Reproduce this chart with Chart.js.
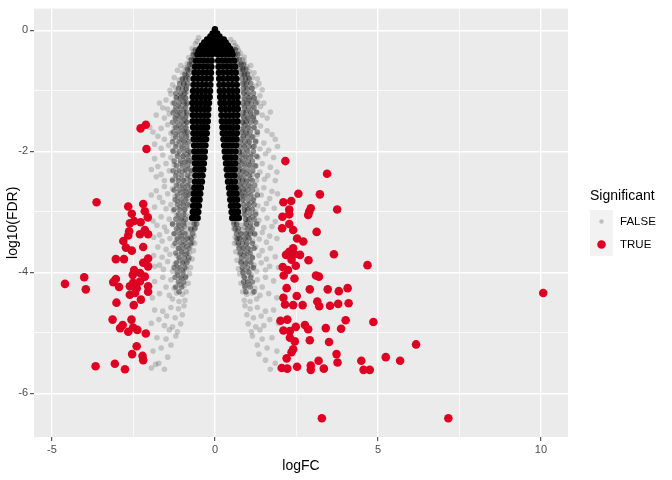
<!DOCTYPE html>
<html>
<head>
<meta charset="utf-8">
<script src="https://cdn.jsdelivr.net/npm/chart.js@4.4.0/dist/chart.umd.min.js"></script>
<style>
html, body { margin: 0; padding: 0; background: #fff; }
</style>
</head>
<body>
<canvas id="volcano" width="672" height="480"></canvas>
<script>
// tick values
var xTicks = [-5, -2.5, 0, 2.5, 5, 7.5, 10];
var yTicks = [-6, -5, -4, -3, -2, -1, 0];
var sigLabels = ['FALSE', 'TRUE'];

// significant genes (logFC, log10 FDR)
var sigX = [-2.12,-2.28,-2.10,-3.63,-2.66,-2.20,-2.55,-2.15,-2.06,-2.61,-2.48,-2.28,-2.63,-2.66,-2.30,-2.15,-2.05,-2.81,-2.73,-2.55,
  -2.20,-3.04,-2.79,-2.05,-2.20,-2.05,-2.48,-4.01,-4.60,-3.96,-3.04,-3.12,-2.94,-2.52,-2.30,-2.15,-2.51,-2.30,-2.61,-2.40,
  -2.05,-2.61,-2.45,-2.05,-2.27,-3.02,-2.49,-3.14,-2.56,-2.83,-2.91,-2.51,-2.38,-2.66,-2.12,-2.40,-2.54,-2.22,-2.20,-3.66,-3.07,-2.76,
  2.16,3.44,2.56,3.22,2.10,2.34,2.28,2.94,2.89,2.86,3.75,2.07,2.28,2.28,2.06,2.40,3.12,2.52,2.71,2.40,
  2.28,2.18,2.44,2.61,2.35,2.48,2.87,3.65,2.08,2.24,2.11,2.44,3.10,3.19,4.68,2.20,2.91,3.46,3.80,4.07,
  2.10,2.51,2.15,2.40,2.69,3.14,3.20,3.53,3.78,4.10,2.01,2.22,2.48,2.10,2.30,2.76,2.86,3.40,3.87,4.01,
  4.86,2.30,2.45,2.91,3.50,6.17,2.40,2.35,3.73,2.20,3.18,3.76,4.49,5.24,5.68,2.05,2.22,2.52,2.94,2.94,
  3.34,4.56,4.75,3.28,10.07,7.16];
var sigY = [-1.56,-1.62,-1.96,-2.84,-2.91,-2.87,-3.03,-2.99,-3.09,-3.19,-3.15,-3.17,-3.32,-3.39,-3.37,-3.30,-3.37,-3.48,-3.59,-3.64,
  -3.58,-3.78,-3.78,-3.77,-3.84,-3.90,-3.96,-4.08,-4.19,-4.28,-4.11,-4.16,-4.24,-4.04,-4.01,-4.07,-4.17,-4.15,-4.23,-4.26,
  -4.23,-4.37,-4.34,-4.32,-4.45,-4.50,-4.54,-4.78,-4.78,-4.87,-4.92,-4.91,-4.95,-4.98,-5.01,-5.22,-5.35,-5.38,-5.45,-5.55,-5.51,-5.60,
  -2.16,-2.37,-2.70,-2.71,-2.84,-2.82,-2.96,-2.94,-3.00,-3.05,-2.96,-3.08,-3.04,-3.20,-3.27,-3.30,-3.33,-3.44,-3.49,-3.60,
  -3.66,-3.71,-3.70,-3.71,-3.79,-3.89,-3.80,-3.70,-3.91,-3.96,-4.05,-4.10,-4.05,-4.07,-3.88,-4.26,-4.28,-4.28,-4.31,-4.26,
  -4.42,-4.39,-4.53,-4.54,-4.54,-4.48,-4.56,-4.55,-4.52,-4.51,-4.80,-4.78,-4.90,-4.96,-4.97,-4.87,-4.94,-4.92,-4.93,-4.79,
  -4.82,-5.08,-5.14,-5.12,-5.15,-5.19,-5.27,-5.32,-5.35,-5.42,-5.46,-5.49,-5.46,-5.40,-5.46,-5.58,-5.59,-5.56,-5.54,-5.61,
  -5.59,-5.61,-5.61,-6.41,-4.34,-6.41];

// densest non-significant genes: each row is [log10 FDR, logFC, logFC, ...]
var coreRows = [
  [0.02, 0],
  [-0.05, -0.07, 0.07],
  [-0.1, -0.14, 0, 0.14],
  [-0.15, -0.24, -0.1, 0.04, 0.18, 0.27],
  [-0.2, -0.33, -0.2, -0.07, 0.07, 0.2, 0.33],
  [-0.25, -0.4, -0.27, -0.14, 0, 0.14, 0.27, 0.4],
  [-0.3, -0.45, -0.32, -0.19, -0.06, 0.07, 0.2, 0.33, 0.46],
  [-0.35, -0.5, -0.37, -0.24, -0.11, 0.02, 0.15, 0.28, 0.41, 0.51],
  [-0.4, -0.53, -0.42, -0.31, -0.2, -0.09, 0.09, 0.2, 0.31, 0.42, 0.54],
  [-0.5, -0.58, -0.46, -0.34, -0.22, -0.1, 0.1, 0.22, 0.34, 0.46, 0.59],
  [-0.6, -0.61, -0.49, -0.36, -0.23, -0.11, 0.11, 0.24, 0.37, 0.5, 0.62],
  [-0.7, -0.63, -0.51, -0.38, -0.25, -0.12, 0.12, 0.25, 0.39, 0.52, 0.64],
  [-0.8, -0.65, -0.52, -0.39, -0.26, -0.13, 0.13, 0.26, 0.4, 0.53, 0.66],
  [-0.9, -0.66, -0.53, -0.4, -0.27, -0.14, 0.14, 0.27, 0.41, 0.54, 0.67],
  [-1.0, -0.67, -0.54, -0.41, -0.28, -0.15, 0.15, 0.28, 0.42, 0.55, 0.68],
  [-1.1, -0.68, -0.55, -0.42, -0.29, -0.16, 0.16, 0.29, 0.43, 0.56, 0.69],
  [-1.2, -0.69, -0.56, -0.43, -0.3, -0.18, 0.17, 0.3, 0.44, 0.57, 0.7],
  [-1.3, -0.69, -0.56, -0.44, -0.32, -0.2, 0.19, 0.32, 0.45, 0.58, 0.7],
  [-1.4, -0.68, -0.56, -0.44, -0.32, -0.21, 0.2, 0.33, 0.45, 0.57, 0.69],
  [-1.5, -0.68, -0.56, -0.44, -0.33, -0.22, 0.21, 0.33, 0.45, 0.57, 0.69],
  [-1.6, -0.67, -0.55, -0.44, -0.34, -0.24, 0.23, 0.34, 0.45, 0.56, 0.68],
  [-1.7, -0.66, -0.55, -0.45, -0.35, -0.25, 0.24, 0.35, 0.46, 0.56, 0.67],
  [-1.8, -0.65, -0.55, -0.45, -0.36, -0.27, 0.26, 0.36, 0.46, 0.56, 0.66],
  [-1.9, -0.64, -0.54, -0.45, -0.37, -0.29, 0.28, 0.37, 0.46, 0.55, 0.65],
  [-2.0, -0.63, -0.52, -0.41, -0.31, 0.3, 0.4, 0.51, 0.63],
  [-2.1, -0.62, -0.52, -0.42, -0.32, 0.32, 0.41, 0.51, 0.62],
  [-2.2, -0.61, -0.52, -0.43, -0.34, 0.34, 0.43, 0.52, 0.62],
  [-2.3, -0.6, -0.51, -0.43, -0.36, 0.36, 0.44, 0.53, 0.61],
  [-2.4, -0.6, -0.49, -0.38, 0.38, 0.49, 0.6],
  [-2.5, -0.61, -0.5, -0.4, 0.4, 0.5, 0.61],
  [-2.6, -0.63, -0.53, -0.43, 0.43, 0.53, 0.63],
  [-2.7, -0.65, -0.55, -0.45, 0.45, 0.55, 0.66],
  [-2.8, -0.66, -0.56, -0.47, 0.47, 0.57, 0.68],
  [-2.9, -0.67, -0.57, -0.49, 0.49, 0.59, 0.7],
  [-3.0, -0.68, -0.59, -0.51, 0.51, 0.61, 0.71],
  [-3.1, -0.7, -0.61, -0.53, 0.53, 0.63, 0.73]
];

// overlapping non-significant genes next to the core: [log10 FDR, logFC, ...]
var midRows = [
  [-0.32, -0.6, -0.52, 0.55, 0.63],
  [-0.4, -0.66, -0.58, 0.62, 0.7],
  [-0.48, -0.72, -0.64, 0.66, 0.75],
  [-0.56, -0.78, -0.7, 0.72, 0.8, 0.88],
  [-0.64, -0.85, -0.76, 0.78, 0.86, 0.95],
  [-0.72, -0.92, -0.82, 0.82, 0.9, 1.0],
  [-0.8, -1.0, -0.9, -0.8, 0.84, 0.94, 1.05],
  [-0.88, -1.08, -0.96, -0.84, 0.85, 0.96, 1.1],
  [-0.96, -1.12, -1.0, -0.88, 0.87, 0.99, 1.14],
  [-1.04, -1.2, -1.05, -0.92, 0.88, 1.02, 1.18],
  [-1.12, -1.18, -1.06, -0.9, 0.9, 1.05, 1.2],
  [-1.2, -1.25, -1.1, -0.95, -0.85, 0.86, 0.98, 1.12, 1.26],
  [-1.28, -1.2, -1.05, -0.9, 0.9, 1.04, 1.2],
  [-1.36, -1.28, -1.12, -0.96, -0.86, 0.86, 0.95, 1.1, 1.28],
  [-1.44, -1.22, -1.06, -0.9, 0.88, 1.02, 1.18],
  [-1.52, -1.3, -1.15, -1.0, -0.86, 0.85, 0.96, 1.1, 1.25],
  [-1.6, -1.2, -1.05, -0.9, 0.88, 1.02, 1.2],
  [-1.68, -1.28, -1.12, -0.96, -0.84, 0.82, 0.95, 1.08, 1.3],
  [-1.76, -1.2, -1.02, -0.88, 0.86, 1.0, 1.16],
  [-1.84, -1.3, -1.1, -0.95, -0.8, 0.78, 0.92, 1.06, 1.25],
  [-1.92, -1.2, -1.02, -0.86, 0.76, 0.9, 1.05, 1.2],
  [-2.0, -1.28, -1.1, -0.94, -0.78, 0.74, 0.85, 1.0, 1.18],
  [-2.08, -1.15, -0.98, -0.82, 0.78, 0.94, 1.1, 1.28],
  [-2.16, -1.25, -1.06, -0.9, -0.75, 0.73, 0.86, 1.02, 1.15],
  [-2.24, -1.18, -1.0, -0.84, 0.76, 0.92, 1.08, 1.25],
  [-2.32, -1.28, -1.1, -0.92, -0.74, 0.72, 0.85, 1.0, 1.16],
  [-2.4, -1.2, -1.02, -0.84, 0.76, 0.9, 1.06, 1.3],
  [-2.48, -1.3, -1.12, -0.95, -0.76, 0.72, 0.84, 0.98, 1.14],
  [-2.56, -1.18, -1.0, -0.84, 0.76, 0.9, 1.05, 1.22],
  [-2.64, -1.25, -1.08, -0.92, -0.76, 0.74, 0.86, 1.0, 1.15],
  [-2.72, -1.15, -0.98, -0.82, 0.8, 0.94, 1.1, 1.3],
  [-2.8, -1.22, -1.05, -0.9, 0.86, 1.02, 1.18],
  [-2.88, -1.15, -0.98, -0.84, 0.88, 1.04, 1.2],
  [-2.96, -1.25, -1.08, -0.92, 0.9, 1.0, 1.15],
  [-3.04, -1.12, -0.96, 0.92, 1.08, 1.25],
  [-3.12, -1.2, -1.05, -0.9, 0.94, 1.05, 1.2],
  [-3.2, -1.3, -1.12, -0.96, -0.64, -0.56, 0.58, 0.66, 0.96, 1.1, 1.28],
  [-3.28, -1.18, -1.02, -0.74, -0.62, 0.62, 0.72, 1.0, 1.15],
  [-3.36, -1.25, -1.08, -0.92, -0.68, 0.66, 0.8, 0.95, 1.08, 1.22],
  [-3.44, -1.15, -1.0, -0.84, -0.72, 0.68, 0.76, 0.92, 1.05],
  [-3.52, -1.22, -1.05, -0.9, -0.74, 0.72, 0.84, 0.98, 1.15],
  [-3.6, -1.12, -0.96, -0.8, 0.74, 0.88, 1.02, 1.2],
  [-3.68, -1.2, -1.02, -0.86, 0.78, 0.92, 1.08],
  [-3.76, -1.1, -0.94, -0.8, 0.82, 0.98, 1.15],
  [-3.84, -1.18, -1.0, -0.86, 0.8, 0.94, 1.1],
  [-3.92, -1.25, -1.08, -0.92, 0.84, 1.0, 1.18],
  [-4.0, -1.15, -0.98, 0.86, 1.04],
  [-4.08, -1.22, -1.05, -0.9, 0.9, 1.1],
  [-4.16, -1.12, -0.96, 0.88, 1.0, 1.15],
  [-4.24, -1.2, -1.02, 0.92, 1.08],
  [-4.32, -1.1, 0.95, 1.2]
];

// scattered non-significant genes [logFC, log10 FDR]
var haloPts = [
  [-0.5,-0.12],[0.48,-0.15],[-0.6,-0.22],[0.62,-0.25],[-0.7,-0.3],[0.72,-0.33],[-0.68,-0.4],[0.78,-0.38],[-0.8,-0.45],[0.85,-0.48],
  [-0.75,-0.5],[0.9,-0.44],[-0.55,-0.18],[0.58,-0.2],[-0.65,-0.35],[0.68,-0.28],
  [-0.85,-0.55],[-0.92,-0.62],[-1.0,-0.7],[-0.88,-0.75],[-1.1,-0.82],[-0.95,-0.88],[-1.2,-0.95],[-0.9,-0.98],[-1.05,-0.58],[-1.3,-0.9],
  [-0.82,-0.66],[-1.15,-0.66],[-0.98,-0.8],[-1.25,-0.78],[-0.86,-0.92],[-1.38,-0.99],
  [0.9,-0.52],[0.98,-0.6],[1.05,-0.68],[0.92,-0.72],[1.15,-0.78],[1.0,-0.85],[1.25,-0.92],[0.95,-0.95],[1.1,-0.58],[1.35,-0.88],
  [0.86,-0.64],[1.2,-0.7],[1.02,-0.78],[1.3,-0.8],[0.9,-0.88],[1.45,-0.98],[1.12,-0.96],
  [-0.85,-1.02],[-0.95,-1.05],[-1.05,-1.08],[-0.9,-1.12],[-1.2,-1.1],[-1.35,-1.05],[-1.0,-1.18],[-0.88,-1.22],[-1.12,-1.25],[-1.5,-1.15],
  [-1.7,-1.2],[-1.6,-1.28],[-0.95,-1.3],[-1.25,-1.32],[-1.08,-1.36],[-0.86,-1.4],[-1.4,-1.38],[-1.0,-1.44],[-1.2,-1.46],[-0.92,-1.48],
  [-1.55,-1.45],[-1.8,-1.4],[-1.3,-1.2],[-1.45,-1.3],[-0.98,-1.12],[-1.15,-1.4],
  [0.88,-1.02],[0.98,-1.06],[1.08,-1.1],[0.92,-1.14],[1.22,-1.12],[1.38,-1.08],[1.02,-1.2],[0.9,-1.24],[1.15,-1.28],[1.5,-1.2],
  [1.4,-1.26],[0.98,-1.32],[1.28,-1.34],[1.1,-1.38],[0.88,-1.42],[1.45,-1.4],[1.02,-1.46],[1.2,-1.48],[0.95,-1.5],[1.6,-1.45],
  [1.32,-1.18],[1.05,-1.16],[1.18,-1.42],[1.7,-1.35],
  [-0.85,-1.52],[-0.95,-1.55],[-1.1,-1.58],[-0.88,-1.62],[-1.25,-1.6],[-1.45,-1.56],[-1.65,-1.62],[-1.0,-1.66],[-0.9,-1.7],[-1.15,-1.72],
  [-1.35,-1.7],[-1.9,-1.68],[-0.82,-1.76],[-1.05,-1.8],[-1.28,-1.78],[-1.55,-1.8],[-1.75,-1.75],[-0.92,-1.85],[-1.18,-1.88],[-1.42,-1.9],
  [-1.0,-1.94],[-1.65,-1.95],[-0.85,-1.98],[-1.3,-1.98],[-1.85,-1.88],[-2.0,-1.6],
  [0.82,-1.52],[0.92,-1.56],[1.05,-1.6],[0.85,-1.64],[1.2,-1.62],[1.4,-1.58],[1.6,-1.66],[0.98,-1.7],[0.88,-1.74],[1.12,-1.76],
  [1.3,-1.72],[1.75,-1.72],[0.8,-1.8],[1.02,-1.84],[1.25,-1.82],[1.5,-1.86],[1.85,-1.8],[0.9,-1.9],[1.15,-1.92],[1.38,-1.96],
  [0.98,-1.98],[1.65,-1.98],[1.92,-1.92],
  [-0.75,-2.02],[-0.85,-2.05],[-0.98,-2.08],[-1.15,-2.04],[-1.35,-2.1],[-1.6,-2.06],[-1.85,-2.12],[-0.8,-2.15],[-0.92,-2.18],[-1.05,-2.2],
  [-1.25,-2.22],[-1.5,-2.2],[-1.75,-2.25],[-0.78,-2.28],[-0.88,-2.3],[-1.0,-2.33],[-1.18,-2.35],[-1.4,-2.32],[-1.65,-2.38],[-1.95,-2.3],
  [-0.76,-2.42],[-0.86,-2.45],[-0.98,-2.48],[-1.12,-2.44],[-1.3,-2.46],[-1.55,-2.48],[-1.8,-2.42],[-0.7,-2.2],[-0.72,-2.36],
  [0.75,-2.02],[0.84,-2.06],[0.96,-2.1],[1.12,-2.05],[1.32,-2.1],[1.55,-2.04],[1.8,-2.1],[0.78,-2.16],[0.9,-2.2],[1.04,-2.22],
  [1.22,-2.24],[1.45,-2.2],[1.7,-2.26],[0.76,-2.3],[0.86,-2.33],[0.98,-2.36],[1.15,-2.38],[1.38,-2.34],[1.62,-2.4],[1.9,-2.34],
  [0.74,-2.44],[0.85,-2.46],[0.96,-2.5],[1.1,-2.45],[1.28,-2.48],[1.52,-2.46],[1.85,-2.48],[0.72,-2.24],[0.7,-2.4],
  [-0.5,-2.52],[-0.6,-2.55],[-0.7,-2.58],[-0.82,-2.54],[-0.95,-2.6],[-1.1,-2.56],[-1.3,-2.62],[-1.55,-2.58],[-1.8,-2.65],[-0.55,-2.64],
  [-0.65,-2.68],[-0.78,-2.7],[-0.9,-2.72],[-1.05,-2.68],[-1.22,-2.74],[-1.45,-2.7],[-1.7,-2.76],[-1.95,-2.72],[-0.5,-2.78],[-0.62,-2.8],
  [-0.74,-2.83],[-0.86,-2.78],[-1.0,-2.85],[-1.15,-2.82],[-1.35,-2.88],[-1.6,-2.84],[-0.54,-2.9],[-0.68,-2.94],[-0.8,-2.9],[-0.94,-2.96],
  [-1.08,-2.92],[-1.28,-2.98],[-1.5,-2.95],[-1.85,-2.92],[-0.58,-2.98],[-0.72,-2.6],[-0.88,-2.66],
  [0.48,-2.52],[0.58,-2.56],[0.68,-2.6],[0.8,-2.55],[0.92,-2.62],[1.08,-2.58],[1.28,-2.64],[1.5,-2.6],[1.75,-2.66],[0.52,-2.66],
  [0.62,-2.7],[0.75,-2.72],[0.88,-2.74],[1.02,-2.7],[1.2,-2.76],[1.42,-2.72],[1.68,-2.78],[1.92,-2.7],[0.5,-2.8],[0.6,-2.82],
  [0.72,-2.86],[0.84,-2.8],[0.98,-2.88],[1.12,-2.84],[1.32,-2.9],[1.58,-2.86],[0.55,-2.92],[0.66,-2.96],[0.78,-2.92],[0.92,-2.98],
  [1.05,-2.94],[1.25,-3.0],[1.48,-2.96],[1.82,-2.94],[0.6,-3.0],[0.7,-2.64],[0.85,-2.68],
  [-0.55,-3.02],[-0.66,-3.05],[-0.78,-3.08],[-0.9,-3.04],[-1.02,-3.1],[-1.18,-3.06],[-1.4,-3.12],[-1.65,-3.08],[-1.9,-3.15],[-0.58,-3.14],
  [-0.7,-3.18],[-0.84,-3.2],[-0.96,-3.16],[-1.1,-3.22],[-1.3,-3.2],[-1.55,-3.25],[-1.78,-3.22],[-0.6,-3.26],[-0.72,-3.3],[-0.86,-3.28],
  [-0.98,-3.34],[-1.12,-3.3],[-1.25,-3.36],[-1.48,-3.32],[-1.7,-3.38],[-0.64,-3.4],[-0.76,-3.42],[-0.9,-3.45],[-1.04,-3.4],[-1.18,-3.46],
  [-1.38,-3.44],[-1.62,-3.48],[-1.88,-3.42],[-0.68,-3.5],[-0.82,-3.36],[-0.94,-3.24],
  [0.54,-3.02],[0.64,-3.06],[0.76,-3.1],[0.88,-3.04],[1.0,-3.12],[1.15,-3.08],[1.35,-3.14],[1.6,-3.1],[1.85,-3.16],[0.56,-3.16],
  [0.68,-3.2],[0.8,-3.22],[0.94,-3.18],[1.08,-3.24],[1.28,-3.2],[1.5,-3.26],[1.75,-3.24],[0.58,-3.28],[0.7,-3.32],[0.84,-3.3],
  [0.98,-3.36],[1.1,-3.32],[1.22,-3.38],[1.45,-3.34],[1.68,-3.4],[0.62,-3.42],[0.74,-3.44],[0.88,-3.46],[1.02,-3.42],[1.16,-3.48],
  [1.36,-3.45],[1.58,-3.5],[1.9,-3.44],[0.66,-3.5],[0.8,-3.38],[0.92,-3.26],
  [-0.62,-3.52],[-0.74,-3.55],[-0.86,-3.58],[-0.98,-3.54],[-1.1,-3.6],[-1.28,-3.56],[-1.5,-3.62],[-1.75,-3.58],[-0.66,-3.64],[-0.78,-3.68],
  [-0.9,-3.7],[-1.02,-3.66],[-1.16,-3.72],[-1.38,-3.7],[-1.62,-3.75],[-1.88,-3.72],[-0.7,-3.78],[-0.82,-3.8],[-0.95,-3.84],[-1.08,-3.8],
  [-1.22,-3.86],[-1.45,-3.82],[-1.7,-3.88],[-0.75,-3.92],[-0.88,-3.94],[-1.0,-3.97],[-1.14,-3.92],[-1.3,-3.98],[-1.58,-3.95],[-1.85,-3.9],
  [0.6,-3.52],[0.72,-3.56],[0.84,-3.6],[0.96,-3.54],[1.08,-3.62],[1.25,-3.58],[1.45,-3.64],[1.7,-3.6],[0.64,-3.66],[0.76,-3.7],
  [0.88,-3.72],[1.0,-3.68],[1.14,-3.74],[1.35,-3.72],[1.58,-3.78],[1.85,-3.74],[0.68,-3.8],[0.8,-3.82],[0.93,-3.86],[1.06,-3.82],
  [1.2,-3.88],[1.42,-3.84],[1.68,-3.9],[0.72,-3.94],[0.86,-3.96],[0.98,-3.99],[1.12,-3.94],[1.28,-3.98],[1.55,-3.96],[1.95,-3.92],
  [-0.78,-4.02],[-0.9,-4.06],[-1.02,-4.1],[-1.15,-4.04],[-1.35,-4.12],[-1.6,-4.08],[-1.85,-4.15],[-0.82,-4.18],[-0.95,-4.22],[-1.08,-4.2],
  [-1.25,-4.26],[-1.5,-4.24],[-0.88,-4.32],[-1.0,-4.36],[-1.18,-4.34],[-1.4,-4.38],[-1.7,-4.35],[-0.92,-4.46],[-1.1,-4.48],[-1.3,-4.44],[-1.92,-4.42],
  [0.76,-4.02],[0.88,-4.06],[1.0,-4.1],[1.12,-4.04],[1.3,-4.12],[1.55,-4.08],[1.8,-4.14],[0.8,-4.18],[0.92,-4.22],[1.05,-4.2],
  [1.22,-4.26],[1.45,-4.24],[0.85,-4.32],[0.98,-4.36],[1.15,-4.34],[1.38,-4.38],[1.65,-4.35],[0.9,-4.46],[1.08,-4.48],[1.28,-4.44],[1.9,-4.42],
  [-0.95,-4.55],[-1.12,-4.6],[-1.35,-4.58],[-1.6,-4.64],[-1.85,-4.62],[-1.0,-4.7],[-1.22,-4.75],[-1.48,-4.72],[-1.72,-4.78],[-1.05,-4.85],
  [-1.3,-4.9],[-1.55,-4.88],[-1.95,-4.84],[-1.15,-4.98],[-1.4,-4.95],
  [0.92,-4.55],[1.08,-4.6],[1.3,-4.58],[1.55,-4.64],[1.8,-4.62],[0.98,-4.7],[1.18,-4.75],[1.42,-4.72],[1.68,-4.78],[1.02,-4.85],
  [1.25,-4.9],[1.5,-4.88],[1.95,-4.84],[1.12,-4.98],[1.38,-4.95],
  [-1.2,-5.05],[-1.5,-5.1],[-1.78,-5.08],[-1.35,-5.2],[-1.65,-5.25],[-1.9,-5.3],[-1.45,-5.4],[-1.72,-5.5],[-1.95,-5.58],[-1.55,-5.6],[-1.82,-5.52],
  [1.15,-5.05],[1.45,-5.1],[1.75,-5.08],[1.3,-5.2],[1.6,-5.25],[1.9,-5.3],[1.55,-5.45],[1.85,-5.5],[2.0,-5.58],[1.7,-5.6],[1.35,-5.35]
];

function rowsToPoints(rows) {
  var pts = [];
  rows.forEach(function(row) {
    for (var i = 1; i < row.length; i++) pts.push({ x: row[i], y: row[0] });
  });
  return pts;
}

var sigPoints = sigX.map(function(x, i) { return { x: x, y: sigY[i] }; });
var corePoints = rowsToPoints(coreRows);
var midPoints = rowsToPoints(midRows);
var haloPoints = haloPts.map(function(p) { return { x: p[0], y: p[1] }; });

var RED = 'rgb(222,0,35)';
var FONT = '"Liberation Sans", Arial, Helvetica, sans-serif';

var panelBg = {
  id: 'panelBg',
  beforeDraw: function(chart) {
    var a = chart.chartArea, c = chart.ctx;
    c.save();
    c.fillStyle = '#EBEBEB';
    c.fillRect(a.left, a.top, a.right - a.left, a.bottom - a.top);
    c.restore();
  }
};

var ggLegend = {
  id: 'ggLegend',
  afterDraw: function(chart) {
    var c = chart.ctx;
    c.save();
    c.textBaseline = 'middle';
    c.fillStyle = '#000';
    c.font = '14px ' + FONT;
    c.fillText('Significant', 590, 196);
    c.fillStyle = '#F2F2F2';
    c.fillRect(590, 210, 23, 46);
    c.beginPath();
    c.arc(601.5, 221.5, 2.2, 0, Math.PI * 2);
    c.fillStyle = 'rgba(0,0,0,0.22)';
    c.fill();
    c.beginPath();
    c.arc(601.5, 244.5, 4.3, 0, Math.PI * 2);
    c.fillStyle = RED;
    c.fill();
    c.fillStyle = '#000';
    c.font = '11.5px ' + FONT;
    c.fillText(sigLabels[0], 620, 222);
    c.fillText(sigLabels[1], 620, 245);
    c.restore();
  }
};

function isMajor(v, step) {
  return Math.abs(Math.round(v / step) * step - v) < 1e-9;
}

new Chart(document.getElementById('volcano').getContext('2d'), {
  type    : 'scatter',
  data    : {
    datasets : [
      {
        label           : sigLabels[1],
        data            : sigPoints,
        backgroundColor : RED,
        borderWidth     : 0,
        pointRadius     : 4.3
      },
      {
        label           : sigLabels[0],
        data            : corePoints,
        backgroundColor : '#000000',
        borderWidth     : 0,
        pointRadius     : 3.2
      },
      {
        label           : sigLabels[0],
        data            : midPoints,
        backgroundColor : 'rgba(0,0,0,0.4)',
        borderWidth     : 0,
        pointRadius     : 2.8
      },
      {
        label           : sigLabels[0],
        data            : haloPoints,
        backgroundColor : 'rgba(0,0,0,0.17)',
        borderWidth     : 0,
        pointRadius     : 2.8
      }
    ]
  },
  options : {
    responsive : false,
    animation  : false,
    events     : [],
    layout     : { padding: { left: 0, top: 5, right: 104, bottom: 0 } },
    plugins    : { legend: { display: false }, tooltip: { enabled: false } },
    scales     : {
      x : {
        type  : 'linear',
        min   : -5.55,
        max   : 10.83,
        afterBuildTicks : function(s) { s.ticks = xTicks.map(function(v) { return { value: v }; }); },
        afterFit : function(s) { s.height = 43; },
        border : { display: false },
        grid  : {
          color      : '#FFFFFF',
          lineWidth  : function(ctx) { return ctx.tick && isMajor(ctx.tick.value, 5) ? 1.4 : 0.7; },
          tickColor  : function(ctx) { return ctx.tick && isMajor(ctx.tick.value, 5) ? '#333333' : 'rgba(0,0,0,0)'; },
          tickLength : 4,
          tickWidth  : 1
        },
        ticks : {
          autoSkip : false,
          maxRotation : 0,
          padding  : 2,
          color    : '#4D4D4D',
          font     : { size: 11, family: FONT },
          callback : function(v) { return isMajor(v, 5) ? String(v) : ''; }
        },
        title : {
          display : true,
          text    : 'logFC',
          color   : '#000',
          font    : { size: 14, family: FONT },
          padding : { top: 0, bottom: 5 }
        }
      },
      y : {
        type  : 'linear',
        min   : -6.72,
        max   : 0.36,
        afterBuildTicks : function(s) { s.ticks = yTicks.map(function(v) { return { value: v }; }); },
        afterFit : function(s) { s.width = 34; },
        border : { display: false },
        grid  : {
          color      : '#FFFFFF',
          lineWidth  : function(ctx) { return ctx.tick && isMajor(ctx.tick.value, 2) ? 1.4 : 0.7; },
          tickColor  : function(ctx) { return ctx.tick && isMajor(ctx.tick.value, 2) ? '#333333' : 'rgba(0,0,0,0)'; },
          tickLength : 4,
          tickWidth  : 1
        },
        ticks : {
          autoSkip : false,
          padding  : 2,
          color    : '#4D4D4D',
          font     : { size: 11, family: FONT },
          callback : function(v) { return isMajor(v, 2) ? String(v) : ''; }
        },
        title : {
          display : true,
          text    : 'log10(FDR)',
          color   : '#000',
          font    : { size: 14, family: FONT },
          padding : { top: 5, bottom: 0 }
        }
      }
    }
  },
  plugins : [panelBg, ggLegend]
});
</script>
</body>
</html>
